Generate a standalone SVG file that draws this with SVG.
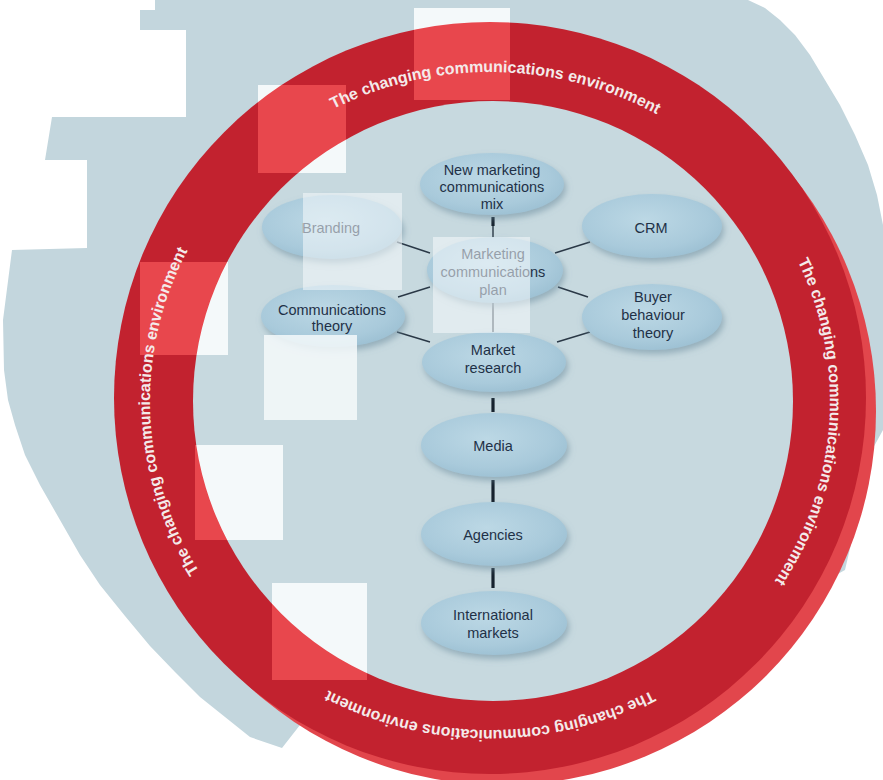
<svg xmlns="http://www.w3.org/2000/svg" width="883" height="780" viewBox="0 0 883 780">
  <style>
    .node-shape { fill: url(#nodeFill); filter: url(#nodeShadow); }
    .node-label { font-family: "Liberation Sans", Arial, sans-serif; font-size: 14.5px; fill: #1f3147; text-anchor: middle; }
    .ring-label { font-family: "Liberation Sans", Arial, sans-serif; font-size: 16px; font-weight: bold; fill: #f4eaea; text-anchor: middle; }
    .thin { stroke: #2a3846; stroke-width: 1.4; fill: none; }
    .thick { stroke: #16222e; stroke-width: 3.2; fill: none; }
    .blot-white { fill: #f4f9fa; }
    .blot-soft { fill: #f6fafb; opacity: 0.55; }
    .blot-red { fill: #e8474d; }
  </style>
  <defs>
    <radialGradient id="nodeFill" cx="0.45" cy="0.4" r="0.65">
      <stop offset="0" stop-color="#bcd8e5"/>
      <stop offset="0.7" stop-color="#a9cadb"/>
      <stop offset="1" stop-color="#9bbfd2"/>
    </radialGradient>
    <filter id="nodeShadow" x="-20%" y="-30%" width="140%" height="170%">
      <feDropShadow dx="2" dy="4" stdDeviation="3" flood-color="#6b8a9c" flood-opacity="0.55"/>
    </filter>
    <clipPath id="ringClip">
      <path clip-rule="evenodd" d="M114,398 a376,376 0 1,0 752,0 a376,376 0 1,0 -752,0 Z M193,401 a300,300 0 1,0 600,0 a300,300 0 1,0 -600,0 Z"/>
    </clipPath>
    <!-- baseline for the ring captions, wound one and a half times clockwise -->
    <path id="ringPath" d="M150,401 A340,329 0 0 1 830,401 A340,329 0 0 1 150,401 A340,329 0 0 1 830,401"/>
  </defs>

  <!-- page and grey-blue backdrop -->
  <rect x="0" y="0" width="883" height="780" fill="#ffffff"/>
  <path id="backdrop" fill="#c3d6dd" d="M155,0 L748,0 L765,8 L780,20 L795,35 L810,55 L825,80 L840,105 L855,135 L868,165 L877,195 L883,225 L883,430 L872,450 L866,480 L860,510 L852,540 L845,570 L700,650 L491,740 L300,725 L282,748 L250,737 L225,717 L200,697 L175,672 L150,646 L125,616 L100,585 L80,555 L60,520 L40,485 L25,455 L15,425 L8,400 L4,370 L3,320 L12,250 L87,248 L87,160 L45,160 L52,117 L186,117 L186,30 L140,30 L140,10 L155,10 Z"/>

  <!-- red ring with its paler lower-right rim, then the inner field -->
  <circle cx="502" cy="411" r="374" fill="#e2464c"/>
  <circle cx="490" cy="398" r="376" fill="#c2222f"/>
  <circle cx="493" cy="401" r="300" fill="#c7d9df"/>

  <!-- pale blocks on the ring -->
  <g id="ring-blocks">
    <rect class="blot-white" x="414" y="8" width="96" height="92"/>
    <rect class="blot-white" x="258" y="85" width="88" height="88"/>
    <rect class="blot-white" x="140" y="262" width="88" height="93"/>
    <rect class="blot-white" x="195" y="445" width="88" height="95"/>
    <rect class="blot-white" x="272" y="583" width="95" height="97"/>
    <g clip-path="url(#ringClip)">
      <rect class="blot-red" x="414" y="8" width="96" height="92"/>
      <rect class="blot-red" x="258" y="85" width="88" height="88"/>
      <rect class="blot-red" x="140" y="262" width="88" height="93"/>
      <rect class="blot-red" x="195" y="445" width="88" height="95"/>
      <rect class="blot-red" x="272" y="583" width="95" height="97"/>
    </g>
  </g>

  <!-- ring captions -->
  <g id="ring-captions">
    <text class="ring-label"><textPath href="#ringPath" startOffset="16.85%">The changing communications environment</textPath></text>
    <text class="ring-label"><textPath href="#ringPath" startOffset="34.07%">The changing communications environment</textPath></text>
    <text class="ring-label"><textPath href="#ringPath" startOffset="50%">The changing communications environment</textPath></text>
    <text class="ring-label"><textPath href="#ringPath" startOffset="66.3%">The changing communications environment</textPath></text>
  </g>

  <!-- connectors -->
  <g id="connectors">
    <line class="thick" x1="493" y1="217" x2="493" y2="226"/>
    <line class="thin" x1="493" y1="226" x2="493" y2="238"/>
    <line class="thin" x1="493" y1="303" x2="493" y2="333"/>
    <line class="thin" x1="397" y1="242" x2="430" y2="253"/>
    <line class="thin" x1="398" y1="297" x2="430" y2="287"/>
    <line class="thin" x1="397" y1="332" x2="430" y2="342"/>
    <line class="thin" x1="555" y1="253" x2="590" y2="242"/>
    <line class="thin" x1="558" y1="287" x2="588" y2="297"/>
    <line class="thin" x1="557" y1="342" x2="590" y2="332"/>
    <line class="thick" x1="493" y1="398" x2="493" y2="412"/>
    <line class="thick" x1="493" y1="480" x2="493" y2="502"/>
    <line class="thick" x1="493" y1="568" x2="493" y2="588"/>
  </g>

  <!-- nodes -->
  <g id="node-new-mix">
    <ellipse class="node-shape" cx="492" cy="184" rx="72" ry="31"/>
    <text class="node-label" x="492" y="175">New marketing</text>
    <text class="node-label" x="492" y="192">communications</text>
    <text class="node-label" x="492" y="209">mix</text>
  </g>
  <g id="node-branding">
    <ellipse class="node-shape" cx="332" cy="227" rx="70" ry="32"/>
    <text class="node-label" x="331" y="233">Branding</text>
  </g>
  <g id="node-crm">
    <ellipse class="node-shape" cx="652" cy="226" rx="70" ry="32"/>
    <text class="node-label" x="651" y="233">CRM</text>
  </g>
  <g id="node-plan">
    <ellipse class="node-shape" cx="495" cy="270" rx="68" ry="33"/>
    <text class="node-label" x="493" y="259">Marketing</text>
    <text class="node-label" x="493" y="277">communications</text>
    <text class="node-label" x="493" y="295">plan</text>
  </g>
  <g id="node-comm-theory">
    <ellipse class="node-shape" cx="333" cy="316" rx="72" ry="31"/>
    <text class="node-label" x="332" y="315">Communications</text>
    <text class="node-label" x="332" y="331">theory</text>
  </g>
  <g id="node-buyer">
    <ellipse class="node-shape" cx="652" cy="317" rx="70" ry="33"/>
    <text class="node-label" x="653" y="302">Buyer</text>
    <text class="node-label" x="653" y="320">behaviour</text>
    <text class="node-label" x="653" y="338">theory</text>
  </g>
  <g id="node-research">
    <ellipse class="node-shape" cx="494" cy="362" rx="72" ry="30"/>
    <text class="node-label" x="493" y="355">Market</text>
    <text class="node-label" x="493" y="373">research</text>
  </g>
  <g id="node-media">
    <ellipse class="node-shape" cx="494" cy="445" rx="73" ry="32"/>
    <text class="node-label" x="493" y="451">Media</text>
  </g>
  <g id="node-agencies">
    <ellipse class="node-shape" cx="494" cy="534" rx="73" ry="32"/>
    <text class="node-label" x="493" y="540">Agencies</text>
  </g>
  <g id="node-international">
    <ellipse class="node-shape" cx="494" cy="623" rx="73" ry="32"/>
    <text class="node-label" x="493" y="620">International</text>
    <text class="node-label" x="493" y="638">markets</text>
  </g>

  <!-- pale blocks over the inner field -->
  <g id="field-blocks">
    <rect class="blot-soft" x="303" y="193" width="99" height="97"/>
    <rect class="blot-soft" x="433" y="237" width="97" height="96"/>
    <rect class="blot-white" x="264" y="335" width="93" height="85" opacity="0.85"/>
  </g>
</svg>
